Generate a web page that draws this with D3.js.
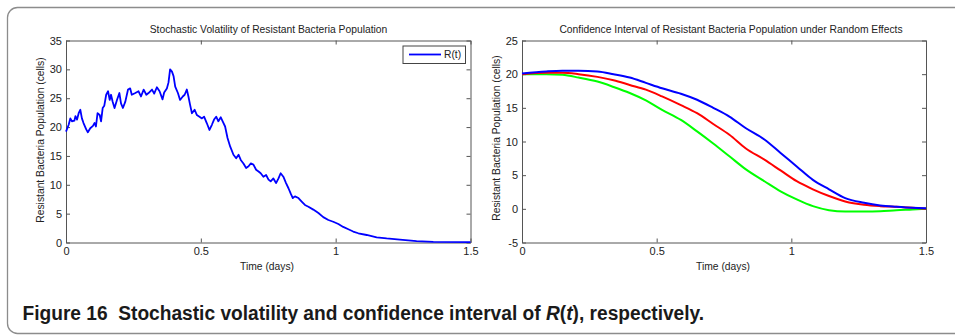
<!DOCTYPE html>
<html>
<head>
<meta charset="utf-8">
<script src="https://cdn.jsdelivr.net/npm/d3@7"></script>
<style>
  html, body { margin: 0; padding: 0; background: #fff; }
  svg { display: block; }
  .tick text { font-family: "Liberation Sans", Arial, sans-serif; font-size: 11px; fill: #222; }
</style>
</head>
<body>
<svg id="chart" width="955" height="335"></svg>
<script>
// ---------- Data ----------
// Left: stochastic path R(t)
const volTime = [0,.0099,.016,.022,.031,.035,.041,.047,.053,.059,.065,.075,.081,.090,.100,.106,.111,.117,.125,.130,.136,.142,.149,.156,.162,.167,.173,.180,.189,.198,.204,.211,.220,.230,.238,.244,.257,.269,.278,.288,.298,.306,.319,.327,.337,.347,.358,.364,.374,.380,.386,.393,.399,.405,.415,.423,.433,.440,.448,.454,.460,.467,.477,.485,.495,.504,.512,.522,.532,.541,.549,.557,.565,.574,.581,.590,.599,.609,.621,.631,.640,.648,.658,.668,.677,.685,.695,.705,.714,.722,.732,.742,.751,.759,.769,.779,.788,.796,.806,.816,.825,.833,.841,.849,.862,.874,.886,.899,.917,.936,.954,.973,.991,1.010,1.028,1.047,1.065,1.084,1.115,1.152,1.189,1.238,1.3,1.362,1.5];
const volR = [19.2,20.4,21.5,21.0,21.1,21.9,21.3,22.4,23.0,21.5,20.7,19.6,19.1,19.8,20.2,20.7,20.1,22.4,22.1,21.0,23.3,23.7,25.6,26.2,24.7,25.6,24.4,23.3,24.7,25.9,24.1,23.3,24.4,26.5,26.7,25.6,25.9,26.2,25.3,26.5,25.6,25.9,26.5,25.8,26.9,26.2,24.8,26.0,26.7,27.7,30.0,29.6,28.8,27.0,25.9,24.7,25.3,25.6,26.5,25.3,23.9,22.4,23.0,22.1,21.8,21.5,21.8,20.7,19.5,20.4,21.3,21.8,21.0,21.7,21.0,20.1,18.1,16.6,15.2,14.6,15.2,14.3,13.7,12.9,13.2,13.7,13.5,12.6,12.3,12.0,11.4,11.7,10.9,10.6,11.1,10.3,11.1,12.0,11.4,10.3,9.4,8.5,7.7,8.0,7.7,7.1,6.5,6.2,5.7,5.1,4.4,3.9,3.6,3.2,2.7,2.3,1.9,1.6,1.3,0.9,0.7,0.5,0.23,0.1,0.05];
const volLegend = ["R(t)"];

// Right: confidence interval curves
const ciTime  = [0,0.09,0.15,0.21,0.28,0.34,0.40,0.46,0.52,0.59,0.65,0.71,0.77,0.83,0.90,0.96,1.02,1.08,1.14,1.20,1.27,1.33,1.39,1.45,1.5];
const ciUpper = [20.1,20.4,20.5,20.5,20.4,20.0,19.5,18.7,17.9,17.1,16.2,15.0,13.7,12.0,10.3,8.3,6.3,4.3,2.9,1.6,0.9,0.5,0.3,0.15,0.1];
const ciMean  = [20.0,20.2,20.2,20.0,19.6,19.1,18.4,17.7,16.7,15.4,14.2,12.6,11.0,9.0,7.3,5.7,4.1,2.9,1.9,1.1,0.6,0.4,0.3,0.15,0.0];
const ciLower = [20.0,20.0,19.9,19.5,18.9,18.1,17.2,16.1,14.7,13.2,11.5,9.7,7.8,5.9,4.1,2.6,1.4,0.4,-0.2,-0.4,-0.4,-0.35,-0.2,-0.1,0.0];

const xTicks = [0, 0.5, 1, 1.5];
const leftYTicks = [0,5,10,15,20,25,30,35];
const rightYTicks = [-5,0,5,10,15,20,25];

const leftTitle = "Stochastic Volatility of Resistant Bacteria Population";
const rightTitle = "Confidence Interval of Resistant Bacteria Population under Random Effects";
const yLabel = "Resistant Bacteria Population (cells)";
const xLabel = "Time (days)";
const captionBold = "Figure 16\u00A0\u00A0Stochastic volatility and confidence interval of ";

// ---------- Drawing ----------
const svg = d3.select("#chart");
const FONT = '"Liberation Sans", Arial, sans-serif';

// outer frame
svg.append("rect")
  .attr("x", 7.5).attr("y", 7.5).attr("width", 980).attr("height", 326)
  .attr("rx", 10).attr("ry", 10)
  .attr("fill", "none").attr("stroke", "#8c8c8c").attr("stroke-width", 1.3);

function drawPanel(opts) {
  const {x0, x1, y0, y1, yDomain, yTicks} = opts;
  const x = d3.scaleLinear().domain([0, 1.5]).range([x0, x1]);
  const y = d3.scaleLinear().domain(yDomain).range([y1, y0]);
  const g = svg.append("g");

  g.append("rect").attr("x", x0).attr("y", y0).attr("width", x1 - x0).attr("height", y1 - y0)
    .attr("fill", "#fff").attr("stroke", "none");

  const fmt = d => String(d);
  const bottom = g.append("g").attr("transform", `translate(0,${y1})`)
    .call(d3.axisBottom(x).tickValues(xTicks).tickFormat(fmt).tickSizeInner(-4).tickSizeOuter(0).tickPadding(5));
  const top = g.append("g").attr("transform", `translate(0,${y0})`)
    .call(d3.axisTop(x).tickValues(xTicks).tickFormat("").tickSizeInner(-4).tickSizeOuter(0));
  const left = g.append("g").attr("transform", `translate(${x0},0)`)
    .call(d3.axisLeft(y).tickValues(yTicks).tickFormat(fmt).tickSizeInner(-4).tickSizeOuter(0).tickPadding(4));
  const right = g.append("g").attr("transform", `translate(${x1},0)`)
    .call(d3.axisRight(y).tickValues(yTicks).tickFormat("").tickSizeInner(-4).tickSizeOuter(0));
  [bottom, top, left, right].forEach(a => {
    a.select(".domain").attr("stroke", "#555").attr("stroke-width", 1);
    a.selectAll(".tick line").attr("stroke", "#555");
  });
  bottom.selectAll(".tick text").attr("dy", "0.72em").attr("y", 5);

  svg.append("text").attr("x", opts.titleX).attr("y", 32.5).attr("text-anchor", "middle")
    .attr("font-family", FONT).attr("font-size", 10.3).attr("fill", "#222").text(opts.title);
  svg.append("text").attr("x", opts.xLabelX).attr("y", 269.5).attr("text-anchor", "middle")
    .attr("font-family", FONT).attr("font-size", 10.3).attr("fill", "#222").text(xLabel);
  svg.append("text")
    .attr("transform", `translate(${opts.yLabelX},${opts.yLabelY}) rotate(-90)`)
    .attr("text-anchor", "middle")
    .attr("font-family", FONT).attr("font-size", 10.3).attr("fill", "#222").text(yLabel);

  return {x, y, g};
}

// Left panel
const L = drawPanel({x0: 66, x1: 470.5, y0: 40.5, y1: 242.5, yDomain: [0, 35], yTicks: leftYTicks,
  title: leftTitle, titleX: 268.5, xLabelX: 267, yLabelX: 43.5, yLabelY: 140});
const volData = volTime.map((t, i) => [t, volR[i]]);
L.g.append("path").datum(volData)
  .attr("fill", "none").attr("stroke", "#0000ff").attr("stroke-width", 1.8).attr("stroke-linejoin", "round")
  .attr("d", d3.line().x(d => L.x(d[0])).y(d => L.y(d[1])));

// Legend
const lg = L.g.append("g");
lg.append("rect").attr("x", 403).attr("y", 46).attr("width", 62.5).attr("height", 17.5)
  .attr("fill", "#fff").attr("stroke", "#444").attr("stroke-width", 1);
lg.append("line").attr("x1", 409).attr("x2", 441).attr("y1", 54.5).attr("y2", 54.5)
  .attr("stroke", "#0000ff").attr("stroke-width", 1.8);
lg.append("text").attr("x", 444).attr("y", 58.3).attr("font-family", FONT).attr("font-size", 10.3)
  .attr("fill", "#222").text(volLegend[0]);

// Right panel
const R = drawPanel({x0: 522, x1: 926, y0: 40.5, y1: 242.5, yDomain: [-5, 25], yTicks: rightYTicks,
  title: rightTitle, titleX: 731, xLabelX: 723, yLabelX: 500, yLabelY: 138});
const ciLine = d3.line().curve(d3.curveMonotoneX).x(d => R.x(d[0])).y(d => R.y(d[1]));
[[ciLower, "#00ff00"], [ciMean, "#ff0000"], [ciUpper, "#0000ff"]].forEach(([vals, col]) => {
  R.g.append("path").datum(ciTime.map((t, i) => [t, vals[i]]))
    .attr("fill", "none").attr("stroke", col).attr("stroke-width", 2).attr("d", ciLine);
});

// Caption (condensed by horizontal scaling to match the reference width)
const capG = svg.append("g");
const cap = capG.append("text").attr("x", 0).attr("y", 0)
  .attr("font-family", FONT)
  .attr("font-weight", "bold").attr("font-size", 20.5).attr("fill", "#1a1a1a");
cap.append("tspan").text(captionBold);
cap.append("tspan").attr("font-style", "italic").text("R");
cap.append("tspan").text("(");
cap.append("tspan").attr("font-style", "italic").text("t");
cap.append("tspan").text("), respectively.");
const capW = cap.node().getComputedTextLength();
capG.attr("transform", `translate(22.5,320) scale(${682 / capW},1)`);
</script>
</body>
</html>
